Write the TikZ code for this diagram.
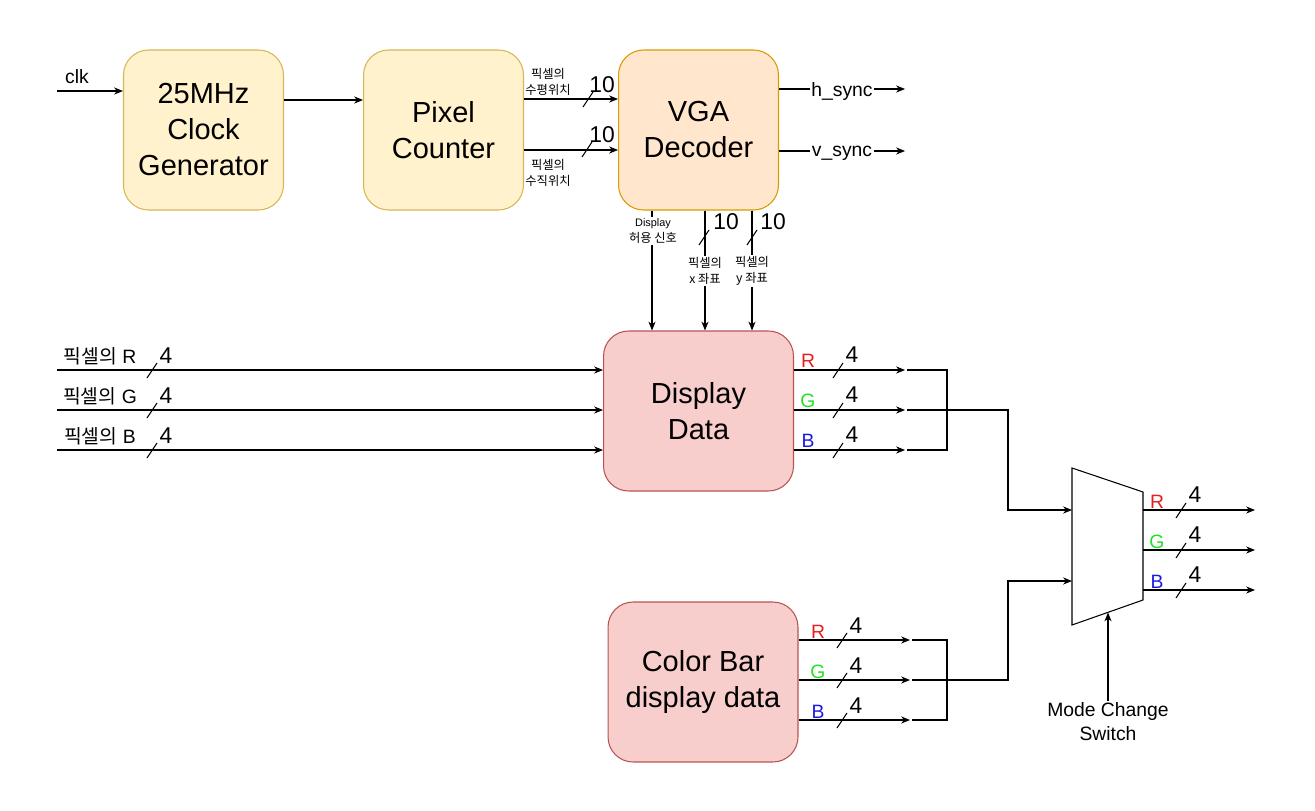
\documentclass[tikz,border=0pt]{standalone}
\usepackage{fontspec}
\setmainfont{Liberation Sans}
\newfontfamily\krfont{Noto Sans CJK KR}
\usetikzlibrary{positioning,arrows.meta}
\definecolor{genfill}{HTML}{FFF2CC}
\definecolor{gendraw}{HTML}{D6B656}
\definecolor{decfill}{HTML}{FFE6CC}
\definecolor{decdraw}{HTML}{D79B00}
\definecolor{datfill}{HTML}{F8CECC}
\definecolor{datdraw}{HTML}{B85450}
\definecolor{chR}{HTML}{E61E1E}
\definecolor{chG}{HTML}{22E022}
\definecolor{chB}{HTML}{1A1AE0}
\begin{document}
\begin{tikzpicture}[x=0.02cm,y=-0.02cm]
    % Styles
        \tikzstyle{block} = [rectangle, rounded corners=0.5cm, draw, text centered, align=center, minimum height=3.2cm, minimum width=3.2cm, line width=0.6pt, font=\fontsize{16.5}{20.5}\selectfont]
        \tikzstyle{genblock} = [block, fill=genfill, draw=gendraw]
        \tikzstyle{decblock} = [block, fill=decfill, draw=decdraw]
        \tikzstyle{datblock} = [block, fill=datfill, draw=datdraw, minimum width=3.8cm]
        \tikzstyle{line} = [draw, line width=0.6pt]
        \tikzstyle{arrow} = [line, -{Stealth[length=5pt, width=4pt, inset=1.5pt]}]
        \tikzstyle{sig} = [inner sep=1pt, font=\fontsize{11}{13.6}\selectfont, align=center]
        \tikzstyle{note} = [inner sep=1pt, fill=white, font=\fontsize{6.2}{9}\selectfont, align=center]
        \tikzstyle{krnote} = [note, font=\krfont\fontsize{7}{9}\selectfont]
        \tikzstyle{busw} = [inner sep=0pt, font=\fontsize{13}{15}\selectfont]
        \useasboundingbox (0,0) rectangle (1315,811);
    % top row
        \node [genblock] at (203.5,130) (clkgen) {25MHz\\Clock\\Generator};
        \node [genblock, right = 1.58cm of clkgen] (pixcnt) {Pixel\\Counter};
        \node [decblock, right = 1.88cm of pixcnt] (vgadec) {VGA\\Decoder};
    % data blocks
        \node [datblock, below = 2.4cm of vgadec] (dispdata) {Display\\Data};
        \node [datblock, below = 2.2cm of dispdata, xshift=0.09cm] (colorbar) {Color Bar\\display data};
    % mux
        \coordinate (muxtl) at (1072,468);
        \coordinate (muxtr) at (1143,492);
        \coordinate (muxbr) at (1143,600);
        \coordinate (muxbl) at (1072,625);
        \path [line] (muxtl) -- (muxtr) -- (muxbr) -- (muxbl) -- cycle;
        \coordinate (muxa) at (1072,510);
        \coordinate (muxb) at (1072,581);
        \coordinate (muxsel) at (1108,612.5);
    % clock and counter
        \coordinate (clkin) at (57,91);
        \node [sig] (clklbl) at (77,77) {clk};
        \path [arrow] (clkin) -- (clkgen.west |- clkin);
        \coordinate (clkout) at (284,100);
        \path [arrow] (clkgen.east |- clkout) -- (pixcnt.west |- clkout);
        \coordinate (hpos) at (548,99);
        \coordinate (vpos) at (548,150);
        \path [arrow] (pixcnt.east |- hpos) -- (vgadec.west |- hpos);
        \path [arrow] (pixcnt.east |- vpos) -- (vgadec.west |- vpos);
        \node [krnote, fill=none] (hposlbl) at (548,82) {픽셀의\\수평위치};
        \node [krnote, fill=none] (vposlbl) at (548,173) {픽셀의\\수직위치};
        \path [line] (583,107) -- ++(10,-15);
        \path [line] (582,157) -- ++(10,-15);
        \node [busw] (hposw) at (602,85) {10};
        \node [busw] (vposw) at (602,135) {10};
    % sync outputs
        \coordinate (hsync) at (905,89);
        \coordinate (vsync) at (905,151);
        \path [arrow] (vgadec.east |- hsync) -- node [sig, fill=white, yshift=-1.5pt] (hsynclbl) {h\_sync} (hsync);
        \path [arrow] (vgadec.east |- vsync) -- node [sig, fill=white, yshift=-1.5pt] (vsynclbl) {v\_sync} (vsync);
    % decoder to display data
        \coordinate (enx) at (652,270);
        \coordinate (xcx) at (705,270);
        \coordinate (ycx) at (752,270);
        \path [arrow] (vgadec.south -| enx) -- (dispdata.north -| enx);
        \path [arrow] (vgadec.south -| xcx) -- (dispdata.north -| xcx);
        \path [arrow] (vgadec.south -| ycx) -- (dispdata.north -| ycx);
        \node [note] (enlbl) at (653,231) {Display\\{\krfont\fontsize{7}{9}\selectfont 허용 신호}};
        \node [krnote] (xclbl) at (705,271) {픽셀의\\x 좌표};
        \node [krnote] (yclbl) at (752,271) {픽셀의\\y 좌표};
        \path [line] (699,245) -- ++(10,-15);
        \path [line] (747,245) -- ++(10,-15);
        \node [busw] (xcw) at (726,222) {10};
        \node [busw] (ycw) at (773,222) {10};
    % pixel inputs
        \coordinate (inR) at (57,370);
        \coordinate (inG) at (57,410);
        \coordinate (inB) at (57,450);
        \path [arrow] (inR) -- (dispdata.west |- inR);
        \path [arrow] (inG) -- (dispdata.west |- inG);
        \path [arrow] (inB) -- (dispdata.west |- inB);
        \node [sig] (inRlbl) at (100,356) {{\krfont 픽셀의} R};
        \node [sig] (inGlbl) at (100,396) {{\krfont 픽셀의} G};
        \node [sig] (inBlbl) at (100,436) {{\krfont 픽셀의} B};
        \path [line] (147,378) -- ++(10,-15);
        \path [line] (147,418) -- ++(10,-15);
        \path [line] (147,458) -- ++(10,-15);
        \node [busw] (inRw) at (166,356) {4};
        \node [busw] (inGw) at (166,396) {4};
        \node [busw] (inBw) at (166,436) {4};
    % display data outputs
        \coordinate (dRe) at (905,370);
        \coordinate (dGe) at (905,410);
        \coordinate (dBe) at (905,450);
        \path [arrow] (dispdata.east |- dRe) -- (dRe);
        \path [arrow] (dispdata.east |- dGe) -- (dGe);
        \path [arrow] (dispdata.east |- dBe) -- (dBe);
        \node [sig, text=chR] (dRlbl) at (808,361) {R};
        \node [sig, text=chG] (dGlbl) at (808,401) {G};
        \node [sig, text=chB] (dBlbl) at (808,441) {B};
        \path [line] (833,378) -- ++(10,-15);
        \path [line] (833,418) -- ++(10,-15);
        \path [line] (833,458) -- ++(10,-15);
        \node [busw] (dRw) at (852,355) {4};
        \node [busw] (dGw) at (852,395) {4};
        \node [busw] (dBw) at (852,435) {4};
        \coordinate (dRb) at (907,370);
        \coordinate (dGb) at (907,410);
        \coordinate (dBb) at (907,450);
        \coordinate (dbus) at (947,450);
        \coordinate (dturn) at (1008,410);
        \path [line] (dRb) -| (dbus) -- (dBb);
        \path [arrow] (dGb) -- (dturn) |- (muxa);
    % color bar outputs
        \coordinate (cRe) at (910,640);
        \coordinate (cGe) at (910,680);
        \coordinate (cBe) at (910,720);
        \path [arrow] (colorbar.east |- cRe) -- (cRe);
        \path [arrow] (colorbar.east |- cGe) -- (cGe);
        \path [arrow] (colorbar.east |- cBe) -- (cBe);
        \node [sig, text=chR] (cRlbl) at (818,632) {R};
        \node [sig, text=chG] (cGlbl) at (818,672) {G};
        \node [sig, text=chB] (cBlbl) at (818,712) {B};
        \path [line] (837,648) -- ++(10,-15);
        \path [line] (837,688) -- ++(10,-15);
        \path [line] (837,728) -- ++(10,-15);
        \node [busw] (cRw) at (856,626) {4};
        \node [busw] (cGw) at (856,666) {4};
        \node [busw] (cBw) at (856,706) {4};
        \coordinate (cRb) at (912,640);
        \coordinate (cGb) at (912,680);
        \coordinate (cBb) at (912,720);
        \coordinate (cbus) at (947,720);
        \coordinate (cturn) at (1008,680);
        \path [line] (cRb) -| (cbus) -- (cBb);
        \path [arrow] (cGb) -- (cturn) |- (muxb);
    % mux outputs
        \coordinate (mRs) at (1143,510);
        \coordinate (mGs) at (1143,550);
        \coordinate (mBs) at (1143,590);
        \coordinate (mRe) at (1255,510);
        \coordinate (mGe) at (1255,550);
        \coordinate (mBe) at (1255,590);
        \path [arrow] (mRs) -- (mRe);
        \path [arrow] (mGs) -- (mGe);
        \path [arrow] (mBs) -- (mBe);
        \node [sig, text=chR] (mRlbl) at (1157,502) {R};
        \node [sig, text=chG] (mGlbl) at (1157,542) {G};
        \node [sig, text=chB] (mBlbl) at (1157,582) {B};
        \path [line] (1176,518) -- ++(10,-15);
        \path [line] (1176,558) -- ++(10,-15);
        \path [line] (1176,598) -- ++(10,-15);
        \node [busw] (mRw) at (1195,495) {4};
        \node [busw] (mGw) at (1195,535) {4};
        \node [busw] (mBw) at (1195,575) {4};
    % mode switch
        \node [sig] (modesw) at (1108,722) {Mode Change\\Switch};
        \path [arrow] (modesw.north) -- (muxsel);
\end{tikzpicture}
\end{document}
